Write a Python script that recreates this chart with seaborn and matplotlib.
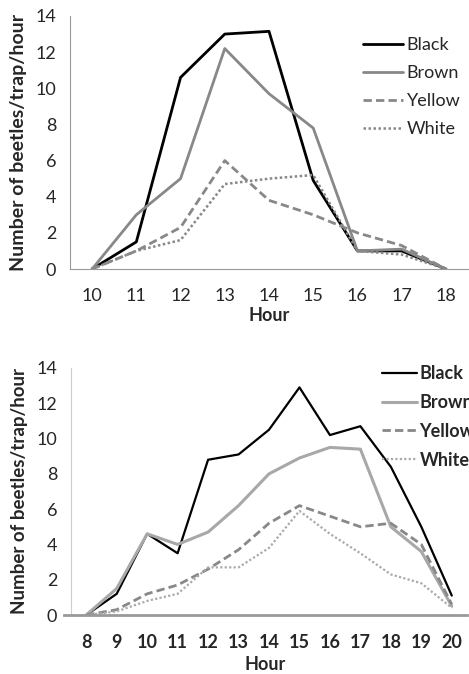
import numpy as np
import pandas as pd
import seaborn as sns
import matplotlib.pyplot as plt

# top panel
hours_a = [10, 11, 12, 13, 14, 15, 16, 17, 18]
black_a = [0, 1.5, 10.6, 13.0, 13.15, 4.9, 1.0, 1.0, 0]
brown_a = [0, 3.0, 5.0, 12.2, 9.7, 7.8, 1.0, 1.1, 0]
yellow_a = [0, 1.0, 2.3, 6.0, 3.8, 3.0, 2.0, 1.3, 0]
white_a = [0, 1.0, 1.6, 4.7, 5.0, 5.2, 1.0, 0.8, 0]

# bottom panel
hours_b = [8, 9, 10, 11, 12, 13, 14, 15, 16, 17, 18, 19, 20]
black_b = [0, 1.2, 4.6, 3.5, 8.8, 9.1, 10.5, 12.9, 10.2, 10.7, 8.4, 5.0, 1.1]
brown_b = [0, 1.5, 4.6, 4.0, 4.7, 6.2, 8.0, 8.9, 9.5, 9.4, 5.0, 3.6, 0.5]
yellow_b = [0, 0.3, 1.2, 1.7, 2.6, 3.7, 5.2, 6.2, 5.6, 5.0, 5.2, 4.0, 0.6]
white_b = [0, 0.2, 0.8, 1.2, 2.7, 2.7, 3.8, 5.9, 4.6, 3.5, 2.3, 1.8, 0.4]

names = ["Black", "Brown", "Yellow", "White"]

sns.set_style("white")
plt.rcParams['font.family'] = ['Lato', 'DejaVu Sans']

fig = plt.figure(figsize=(4.69, 6.74), dpi=100)
ax1 = fig.add_axes([70 / 469, 1 - 269 / 674, 398 / 469, 253 / 674])
ax2 = fig.add_axes([64 / 469, 1 - 615 / 674, 403 / 469, 247 / 674])


def draw(ax, hours, series, styles, weight, ylsize):
    for name, vals, (col, ls, lw) in zip(names, series, styles):
        df = pd.DataFrame({"Hour": hours, "val": vals})
        sns.lineplot(data=df, x="Hour", y="val", ax=ax, color=col,
                     linestyle=ls, linewidth=lw, label=name)
    ax.set_ylim(0, 14)
    ax.set_yticks(np.arange(0, 15, 2))
    ax.set_xticks(hours)
    ax.set_xticks(np.arange(hours[0] - 0.5, hours[-1] + 1, 1), minor=True)
    ax.tick_params(axis='x', which='major', length=0, pad=14, labelsize=13)
    ax.tick_params(axis='x', which='minor', length=5, color='#999999', width=1)
    ax.tick_params(axis='y', length=4, color='#999999', labelsize=13, pad=6)
    for lab in ax.get_xticklabels() + ax.get_yticklabels():
        lab.set_fontweight(weight)
    ax.set_xlabel("Hour", fontsize=13, fontweight='bold', labelpad=2)
    ax.set_ylabel("Number of beetles/trap/hour", fontsize=ylsize,
                  fontweight='bold', labelpad=6)
    ax.spines['top'].set_visible(False)
    ax.spines['right'].set_visible(False)


styles_a = [("#000000", "-", 2.0), ("#888888", "-", 2.0),
            ("#888888", (0, (3, 1.5)), 2.0), ("#888888", (0, (1, 1)), 1.8)]
draw(ax1, hours_a, [black_a, brown_a, yellow_a, white_a], styles_a, 'normal', 14)
ax1.set_xlim(hours_a[0] - 0.5, hours_a[-1] + 0.5)
ax1.spines['left'].set_color('#999999')
ax1.spines['bottom'].set_color('#999999')
ax1.legend(loc='upper left', bbox_to_anchor=(0.719, 0.945), frameon=False,
           fontsize=13, handlelength=2.2, handletextpad=0.2,
           labelspacing=0.67, borderaxespad=0)

styles_b = [("#000000", "-", 1.6), ("#a8a8a8", "-", 2.2),
            ("#888888", (0, (3, 1.5)), 2.0), ("#aaaaaa", (0, (1, 1)), 1.6)]
draw(ax2, hours_b, [black_b, brown_b, yellow_b, white_b], styles_b, 'bold', 13.5)
ax2.set_xlim(hours_b[0] - 0.73, hours_b[-1] + 0.5)
ax2.spines['left'].set_position(('data', hours_b[0] - 0.5))
ax2.spines['left'].set_color('#cccccc')
ax2.spines['bottom'].set_color('#999999')
ax2.spines['bottom'].set_linewidth(2)
ax2.xaxis.labelpad = 3
leg = ax2.legend(loc='upper left', bbox_to_anchor=(0.772, 1.04), frameon=False,
                 fontsize=13, handlelength=1.9, handletextpad=0.15,
                 labelspacing=0.65, borderaxespad=0)
for t in leg.get_texts():
    t.set_fontweight('bold')

fig.savefig("out.png", dpi=100)
